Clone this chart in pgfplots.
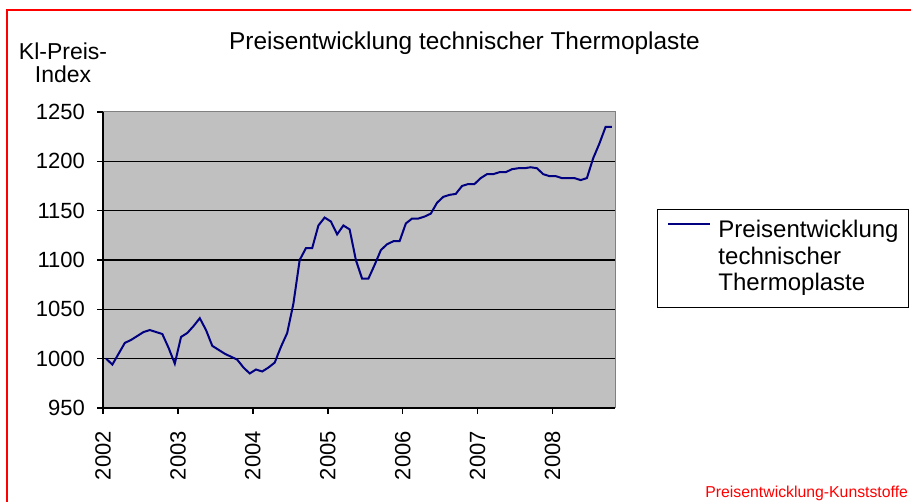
\documentclass[border=0pt]{standalone}
\usepackage{fontspec}
\setmainfont{Liberation Sans}
\usepackage{pgfplots}
\pgfplotsset{compat=1.18}
\definecolor{plotgray}{HTML}{C0C0C0}
\definecolor{framegray}{HTML}{808080}
\definecolor{navyline}{HTML}{000080}
\begin{document}
\begin{tikzpicture}[x=1pt,y=1pt]
\useasboundingbox (0,0) rectangle (455.5,251);
\fill[white] (0,0) rectangle (455.5,251);
\draw[red, line width=1pt] (3.5,0) -- (3.5,246) -- (456,246);
\node[anchor=base, font=\fontsize{12.2}{14}\selectfont] at (232.25,226) {Preisentwicklung technischer Thermoplaste};
\node[anchor=base, font=\fontsize{11.5}{13}\selectfont] at (31.5,221) {Kl-Preis-};
\node[anchor=base, font=\fontsize{11.5}{13}\selectfont] at (31.5,209.5) {Index};
\node[anchor=base west, red, font=\fontsize{7.9}{9}\selectfont, inner sep=0pt] at (352.5,2) {Preisentwicklung-Kunststoffe};
\begin{axis}[
  at={(51.5pt,47pt)}, anchor=south west,
  scale only axis, width=256pt, height=148pt,
  xmin=0, xmax=82, ymin=950, ymax=1250,
  axis lines*=left,
  axis line style={black, line width=0.75pt, -},
  axis background/.style={fill=plotgray, draw=framegray, line width=0.5pt},
  tick align=outside, major tick length=3pt,
  every tick/.style={black, line width=0.75pt},
  ytick={950,1000,...,1250},
  extra y ticks={1000,1050,1100,1150,1200},
  extra y tick labels={},
  extra y tick style={ymajorgrids=true, major tick length=0pt, grid style={black, line width=0.8pt}},
  xtick={0,12,24,36,48,60,72},
  xticklabels={2002,2003,2004,2005,2006,2007,2008},
  xticklabel style={rotate=90, anchor=east, font=\fontsize{11}{13}\selectfont},
  xticklabel shift=5pt,
  yticklabel style={font=\fontsize{11}{13}\selectfont},
  yticklabel shift=2.5pt,
  /pgf/number format/assume math mode=true,
  /pgf/number format/1000 sep={},
  legend style={at={(1.082,0.672)}, anchor=north west, draw=black, line width=0.5pt, fill=white,
    font=\fontsize{12}{13}\selectfont, inner xsep=5pt, inner ysep=4.5pt,
    nodes={inner sep=0pt, text height=9.5pt, text depth=3.75pt},
    column sep=3.5pt, row sep=0pt},
  legend cell align=left,
  legend image code/.code={\draw[#1] (0pt,4pt) -- (21pt,4pt);},
]
\addplot[navyline, line width=1pt] coordinates {
(0.5,1000) (1.5,994) (2.5,1005) (3.5,1016) (4.5,1019) (5.5,1023) (6.5,1027) (7.5,1029)
(8.5,1027) (9.5,1025) (10.5,1011) (11.5,995) (12.5,1022) (13.5,1026) (14.5,1033) (15.5,1041)
(16.5,1029) (17.5,1013) (18.5,1009) (19.5,1005) (20.5,1002) (21.5,999) (22.5,991) (23.5,985)
(24.5,989) (25.5,987) (26.5,991) (27.5,996) (28.5,1012) (29.5,1026) (30.5,1056) (31.5,1100)
(32.5,1112) (33.5,1112) (34.5,1135) (35.5,1143) (36.5,1139) (37.5,1126) (38.5,1135) (39.5,1131)
(40.5,1100) (41.5,1081) (42.5,1081) (43.5,1095) (44.5,1110) (45.5,1116) (46.5,1119) (47.5,1119)
(48.5,1137) (49.5,1142) (50.5,1142) (51.5,1144) (52.5,1147) (53.5,1158) (54.5,1164) (55.5,1166)
(56.5,1167) (57.5,1175) (58.5,1177) (59.5,1177) (60.5,1183) (61.5,1187) (62.5,1187) (63.5,1189)
(64.5,1189) (65.5,1192) (66.5,1193) (67.5,1193) (68.5,1194) (69.5,1193) (70.5,1187) (71.5,1185)
(72.5,1185) (73.5,1183) (74.5,1183) (75.5,1183) (76.5,1181) (77.5,1183) (78.5,1203) (79.5,1218)
(80.5,1235) (81.5,1235)
};
\addlegendentry{Preisentwicklung}
\addlegendimage{empty legend}
\addlegendentry{technischer}
\addlegendimage{empty legend}
\addlegendentry{Thermoplaste}
\end{axis}
\end{tikzpicture}
\end{document}
